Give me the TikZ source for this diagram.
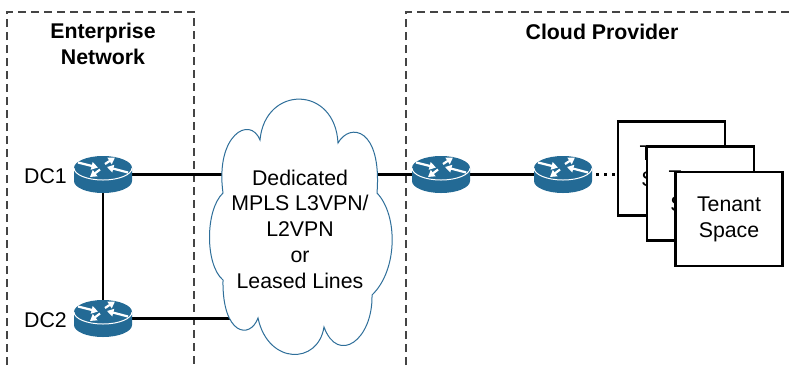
\documentclass[tikz,border=0pt]{standalone}
\usepackage{fontspec}
\setmainfont{Liberation Sans}
\usetikzlibrary{arrows.meta}
\definecolor{rblue}{HTML}{236A95}
\definecolor{cloudblue}{HTML}{2F6F9A}
\definecolor{dashgray}{HTML}{444444}
\tikzset{
  x=1pt,y=-1pt,
  anchorbox/.style={inner sep=0pt,minimum width=58pt,minimum height=37pt,draw=none},
  link/.style={line width=2.4pt,black},
  dotlink/.style={line width=2.6pt,black,dash pattern=on 2.6pt off 5.4pt,dash phase=4pt},
  zone/.style={line width=1.1pt,dashgray,dash pattern=on 8pt off 5pt},
  tenant/.style={draw=black,fill=white,line width=2.6pt,minimum width=107pt,minimum height=94pt,inner sep=0pt,align=center,font=\fontsize{21.3}{26}\selectfont},
  lbl/.style={align=center,inner sep=0pt,font=\fontsize{21.3}{25.7}\selectfont},
  title/.style={align=center,inner sep=0pt,font=\fontsize{21.3}{26}\selectfont\bfseries},
  rarrow/.style={draw=white,line width=2.2pt,-{Triangle[width=7.5pt,length=6.5pt]}},
  router/.pic={
    \fill[rblue] (-29,-6.5) -- (-29,6.5) arc[start angle=180,end angle=0,x radius=29,y radius=12] -- (29,-6.5) -- cycle;
    \fill[rblue] (0,-6.5) ellipse[x radius=29,y radius=12];
    \draw[white,line width=1pt] (-29,-6.5) arc[start angle=180,end angle=0,x radius=29,y radius=12];
    \draw[rarrow] (-25,-12) -- (-5,-7);
    \draw[rarrow] (2,-10.5) -- (12,-17);
    \draw[rarrow] (-3,-5) -- (-13,2.5);
    \draw[rarrow] (25,-2) -- (4,-7.5);
  }
}
\begin{document}
\begin{tikzpicture}
\useasboundingbox (0,0) rectangle (789,365);
\fill[white] (0,0) rectangle (789,365);
% zones
\draw[zone] (7,365) -- (7,12) -- (194,12) -- (194,365);
\draw[zone] (406,365) -- (406,12) -- (789,12);
\node[title] (enterprise) at (103,44) {Enterprise\\Network};
\node[title] (provider) at (602,31.5) {Cloud Provider};
% router anchors
\node[anchorbox] (dc1) at (103,174.5) {};
\node[anchorbox] (dc2) at (103,318.5) {};
\node[anchorbox] (edge) at (441,174.5) {};
\node[anchorbox] (gw) at (563,174.5) {};
\coordinate (cloudleft) at (240,318.5);
% tenant stack
\node[tenant] (t1) at (671.5,168.5) {\raisebox{-2pt}{Tenant}\\\raisebox{-2pt}{Space}};
\node[tenant] (t2) at (700.5,193.5) {\raisebox{-2pt}{Tenant}\\\raisebox{-2pt}{Space}};
\node[tenant] (t3) at (729,219) {\raisebox{-2pt}{Tenant}\\\raisebox{-2pt}{Space}};
% connectors
\draw[link] (dc1.east) -- (edge.west);
\draw[link] (dc2.east) -- (cloudleft);
\draw[link] (dc1.south) -- (dc2.north);
\draw[link] (edge.east) -- (gw.west);
\draw[dotlink] (gw.east) -- (t1.west |- gw.east);
% cloud
\draw[cloudblue,fill=white,line width=1pt]
  (260,140) .. controls (265,85) and (335,85) .. (338,143)
  .. controls (350,122) and (382,128) .. (377,193)
  .. controls (398,215) and (398,270) .. (372,295)
  .. controls (373,340) and (338,365) .. (324,327)
  .. controls (318,365) and (268,365) .. (258,318)
  .. controls (250,340) and (222,335) .. (223,280)
  .. controls (205,265) and (205,210) .. (223,193)
  .. controls (215,135) and (250,115) .. (260,140) -- cycle;
\node[lbl] (cloudtext) at (300,229) {Dedicated\\MPLS L3VPN/\\L2VPN\\or\\Leased Lines};
% routers
\pic at (dc1) {router};
\pic at (dc2) {router};
\pic at (edge) {router};
\pic at (gw) {router};
\node[lbl,anchor=east] (dc1lbl) at (67,176) {DC1};
\node[lbl,anchor=east] (dc2lbl) at (67,320) {DC2};
\end{tikzpicture}
\end{document}
